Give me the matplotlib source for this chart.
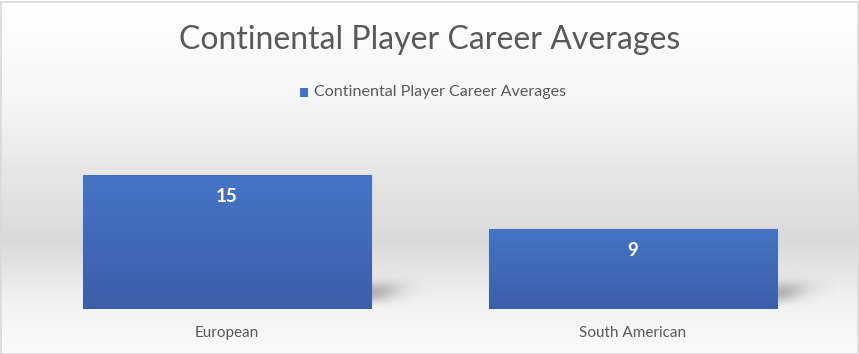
import numpy as np
import matplotlib.pyplot as plt
from matplotlib.colors import LinearSegmentedColormap

# data
categories = ["European", "South American"]
averages = [15, 9]
series_name = "Continental Player Career Averages"
chart_title = "Continental Player Career Averages"

plt.rcParams['font.family'] = ['Lato', 'DejaVu Sans']
TEXT_GRAY = "#595959"
BAR_TOP = "#4674C6"
BAR_BOTTOM = "#3A5FA8"

W, H = 859, 354
fig = plt.figure(figsize=(W / 100, H / 100), dpi=100)

# chart-area background: white -> gray band -> white
bg = fig.add_axes([0, 0, 1, 1], zorder=0)
stops = [(0.0, "#FFFFFF"), (100 / H, "#F6F6F6"), (240 / H, "#D9D9D9"),
         (300 / H, "#F1F1F1"), (1.0, "#FBFBFB")]
bg_cmap = LinearSegmentedColormap.from_list("bg", stops)
bg.imshow(np.linspace(0, 1, 400).reshape(-1, 1), cmap=bg_cmap, aspect="auto",
          extent=[0, 1, 0, 1], origin="upper")
bg.set_xlim(0, 1)
bg.set_ylim(0, 1)
bg.axis("off")
# thin border around the chart area
bg.add_patch(plt.Rectangle((0.5 / W, 0.5 / H), 1 - 2 / W, 1 - 2 / H, fill=False,
                           edgecolor="#D9D9D9", lw=1.2, transform=bg.transAxes))

ax_left, ax_right, ax_top, ax_bottom = 24, 836, 166, 309
ax = fig.add_axes([ax_left / W, (H - ax_bottom) / H, (ax_right - ax_left) / W,
                   (ax_bottom - ax_top) / H], zorder=1)
ax.patch.set_alpha(0)
x = np.arange(len(categories))
width = 0.71
ymax = 16
ax.set_xlim(-0.5, len(categories) - 0.5)
ax.set_ylim(0, ymax)

# pixels per data unit, used to size the shadows
px_x = (ax_right - ax_left) / len(categories)
px_y = (ax_bottom - ax_top) / ymax

bar_cmap = LinearSegmentedColormap.from_list("bar", [BAR_TOP, BAR_BOTTOM])
bars = ax.bar(x, averages, width=width, color=BAR_TOP, edgecolor="#6B8ED2",
              linewidth=0.8, zorder=3)

for rect, val in zip(bars, averages):
    x0, x1 = rect.get_x(), rect.get_x() + rect.get_width()
    # soft shadow cast off the lower right corner of each bar
    dx = np.linspace(-6, 80, 170)
    dy = np.linspace(0, 50, 120)
    gx, gy = np.meshgrid(dx, dy)
    cy = 16 + 0.12 * np.clip(gx, 0, None)
    d = np.exp(-((gx + 2) / 30) ** 2) * np.exp(-((gy - cy) / 10) ** 2)
    d *= np.clip(gy / 6, 0, 1)
    rgba = np.zeros(gy.shape + (4,))
    rgba[..., :3] = 0.35
    rgba[..., 3] = 0.42 * d
    ax.imshow(rgba, extent=[x1 + dx[0] / px_x, x1 + dx[-1] / px_x, 0, dy[-1] / px_y],
              origin="lower", aspect="auto", zorder=2, interpolation="bilinear")
    # vertical gradient fill
    grad = ax.imshow(np.linspace(0, 1, 200).reshape(-1, 1), cmap=bar_cmap,
                     extent=[x0, x1, 0, val], origin="upper", aspect="auto",
                     zorder=3.5)
    grad.set_clip_path(rect)
    ax.text(rect.get_x() + rect.get_width() / 2, val - 13 / px_y, f"{val}",
            ha="center", va="top", color="white", fontsize=13.5,
            fontweight="bold", zorder=5)

ax.set_xlim(-0.5, len(categories) - 0.5)
ax.set_ylim(0, ymax)
ax.set_xticks(x)
ax.set_xticklabels(categories, fontsize=11, color=TEXT_GRAY)
ax.tick_params(axis="x", length=0, pad=12)
ax.set_yticks([])
for s in ax.spines.values():
    s.set_visible(False)

fig.text(0.5, 1 - 40 / H, chart_title, ha="center", va="center",
         fontsize=23, color=TEXT_GRAY, zorder=5)

# legend entry
fig.text(314 / W, 1 - 92 / H, series_name, ha="left", va="center",
         fontsize=11.6, color=TEXT_GRAY, zorder=5)
fig.patches.append(plt.Rectangle((300 / W, 1 - 97 / H), 8 / W, 9 / H,
                                 transform=fig.transFigure, facecolor="#4472C4",
                                 zorder=5))

fig.savefig("out.png", dpi=100)
